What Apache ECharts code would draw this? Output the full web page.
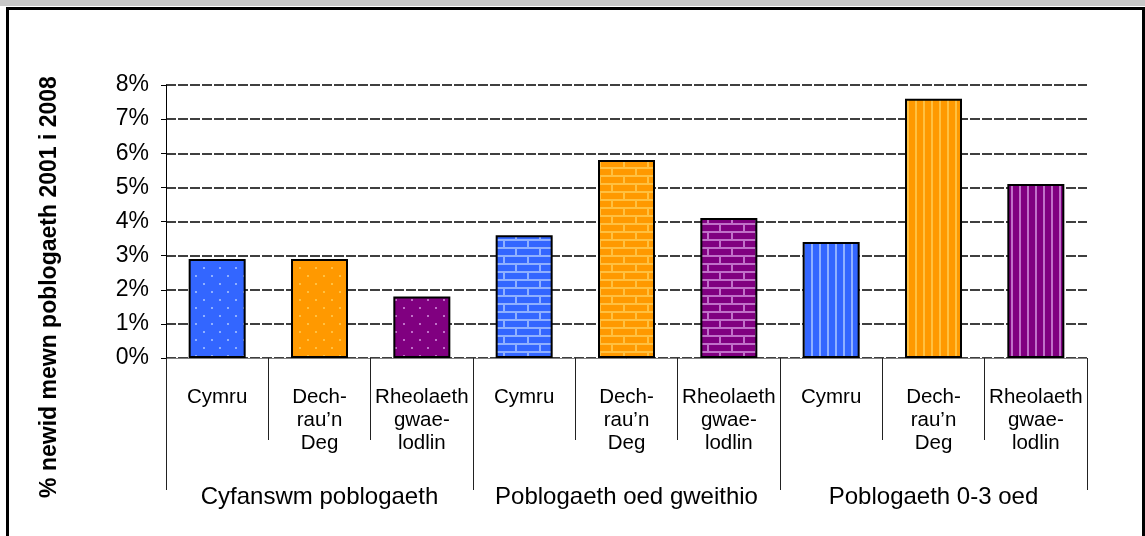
<!DOCTYPE html>
<html>
<head>
<meta charset="utf-8">
<script src="https://cdn.jsdelivr.net/npm/echarts@6/dist/echarts.min.js"></script>
<style>
  html, body { margin: 0; padding: 0; background: #fff; }
  #topband { position: absolute; left: 0; top: 0; width: 1145px; height: 6px; background: #c8c8c8; }
  #frame { position: absolute; left: 6px; top: 7px; width: 1133px; height: 540px; border: 3px solid #000; }
  #chart { position: absolute; left: 0; top: 0; width: 1145px; height: 536px; }
</style>
</head>
<body>
<div id="topband"></div>
<div id="frame"></div>
<div id="chart"></div>
<script>
// data
var categories = ['Cymru', 'Dech-\nrau\u2019n\nDeg', 'Rheolaeth\ngwae-\nlodlin',
                  'Cymru', 'Dech-\nrau\u2019n\nDeg', 'Rheolaeth\ngwae-\nlodlin',
                  'Cymru', 'Dech-\nrau\u2019n\nDeg', 'Rheolaeth\ngwae-\nlodlin']
var groups = ['Cyfanswm poblogaeth', 'Poblogaeth oed gweithio', 'Poblogaeth 0-3 oed']
var values = [2.9, 2.9, 1.8, 3.6, 5.8, 4.1, 3.4, 7.6, 5.1]
var yTicks = [0, 1, 2, 3, 4, 5, 6, 7, 8]

var FONT = '"Liberation Sans", Arial, sans-serif'

// base + light colour for Cymru / Dechrau'n Deg / Rheolaeth gwaelodlin
var palette = [
  ['#3366ff', '#8fb0ff'],
  ['#ff9900', '#ffc040'],
  ['#800080', '#c070c8']
]
var kinds = ['dots', 'brick', 'stripes']

function makePattern (base, light, kind) {
  var c = document.createElement('canvas')
  var ctx
  if (kind === 'dots') {
    c.width = 16; c.height = 16
    ctx = c.getContext('2d')
    ctx.fillStyle = base; ctx.fillRect(0, 0, 16, 16)
    ctx.fillStyle = light
    ctx.fillRect(3, 3, 2, 2)
    ctx.fillRect(11, 11, 2, 2)
  } else if (kind === 'brick') {
    c.width = 48; c.height = 16
    ctx = c.getContext('2d')
    ctx.fillStyle = light; ctx.fillRect(0, 0, 48, 16)
    ctx.fillStyle = base
    ctx.fillRect(1, 1, 22, 6); ctx.fillRect(25, 1, 22, 6)
    ctx.fillRect(0, 9, 11, 6); ctx.fillRect(13, 9, 22, 6); ctx.fillRect(37, 9, 11, 6)
  } else {
    c.width = 8; c.height = 8
    ctx = c.getContext('2d')
    ctx.fillStyle = base; ctx.fillRect(0, 0, 8, 8)
    ctx.fillStyle = light; ctx.fillRect(3, 0, 2, 8)
  }
  return c
}

var barData = values.map(function (v, i) {
  var p = palette[i % 3]
  return {
    value: v,
    itemStyle: {
      color: { image: makePattern(p[0], p[1], kinds[Math.floor(i / 3)]), repeat: 'repeat' },
      borderColor: '#000',
      borderWidth: 2
    }
  }
})

var chart = echarts.init(document.getElementById('chart'))
chart.setOption({
  animation: false,
  grid: { left: 166, right: 58, top: 85, bottom: 178 },
  xAxis: [
    {
      type: 'category',
      data: categories,
      position: 'bottom',
      axisLine: { lineStyle: { color: '#808080', width: 1 } },
      axisTick: { show: true, length: 82, interval: 0, lineStyle: { color: '#222', width: 1 } },
      axisLabel: {
        interval: 0, margin: 28, fontFamily: FONT, fontSize: 20.5,
        color: '#000', lineHeight: 23, verticalAlign: 'top'
      }
    },
    {
      type: 'category',
      data: groups,
      position: 'bottom',
      axisLine: { show: false },
      axisTick: { show: true, length: 132, interval: 0, lineStyle: { color: '#222', width: 1 } },
      axisLabel: {
        interval: 0, margin: 127, fontFamily: FONT, fontSize: 24,
        color: '#000', verticalAlign: 'top'
      }
    }
  ],
  yAxis: {
    type: 'value',
    min: yTicks[0],
    max: yTicks[yTicks.length - 1],
    interval: 1,
    axisLine: { show: true, lineStyle: { color: '#000', width: 1 } },
    axisTick: { show: true, length: 5, lineStyle: { color: '#000' } },
    axisLabel: {
      formatter: '{value}%', fontFamily: FONT, fontSize: 23,
      color: '#000', margin: 17
    },
    splitLine: { lineStyle: { color: '#000', width: 1.5, type: [10, 2] } }
  },
  graphic: [{
    type: 'text',
    x: 50,
    y: 287,
    rotation: Math.PI / 2,
    style: {
      text: '% newid mewn poblogaeth 2001 i 2008',
      font: 'bold 23px ' + FONT,
      fill: '#000',
      align: 'center',
      verticalAlign: 'middle'
    }
  }],
  series: [{
    type: 'bar',
    xAxisIndex: 0,
    barWidth: 57,
    data: barData
  }]
})
</script>
</body>
</html>
